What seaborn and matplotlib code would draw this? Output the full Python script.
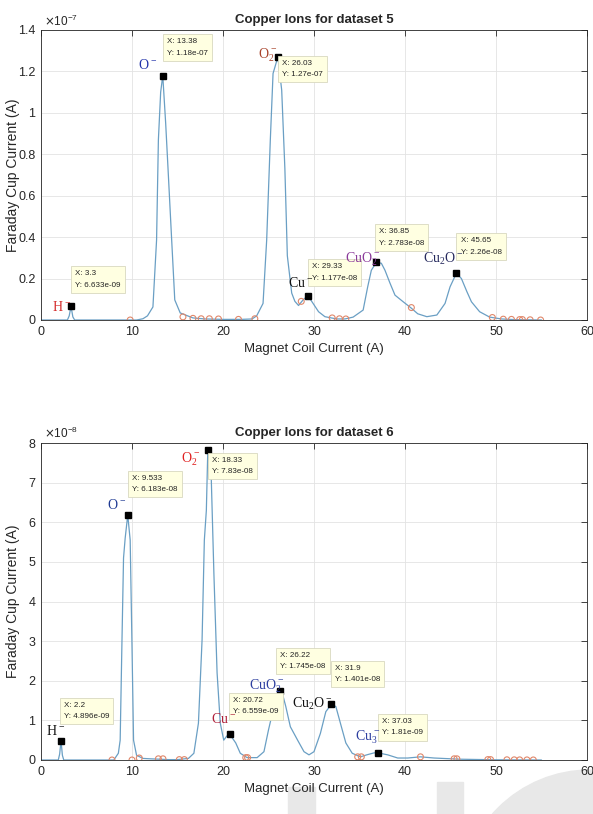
import numpy as np
import pandas as pd
import seaborn as sns
import matplotlib.pyplot as plt
from matplotlib.patches import Rectangle, Ellipse
from matplotlib.ticker import FuncFormatter

# ---- dataset 5 spectrum (y in units of 1e-7 A) ----
x5 = [0, 2.9, 3.1, 3.3, 3.5, 3.7, 10.5, 11.2, 11.7, 12.3, 12.7, 12.9, 13.15, 13.38,
      13.7, 13.96, 14.36, 14.7, 15.3, 16.7, 18, 20, 22, 23.2, 23.7, 24.4, 24.8, 25.2,
      25.5, 26.03, 26.45, 26.8, 27.07, 27.55, 27.9, 28.3, 28.8, 29.33, 29.9, 30.5,
      31.2, 32.5, 33.4, 34.3, 35.4, 35.9, 36.3, 36.85, 37.4, 37.8, 38.35, 38.9, 39.8,
      40.7, 41.4, 42.4, 43.5, 44.4, 44.95, 45.65, 46.2, 46.8, 47.3, 48.2, 49.3, 50.6,
      52, 55]
y5 = [0, 0, 0.02, 0.066, 0.015, 0, 0, 0.006, 0.02, 0.063, 0.386, 0.87, 1.1, 1.18,
      0.95, 0.73, 0.386, 0.097, 0.034, 0.01, 0.005, 0.003, 0.003, 0.005, 0.02, 0.08,
      0.386, 0.87, 1.19, 1.27, 1.11, 0.73, 0.31, 0.13, 0.09, 0.07, 0.097, 0.1177, 0.08,
      0.04, 0.016, 0.005, 0.005, 0.014, 0.048, 0.16, 0.24, 0.2783, 0.274, 0.24, 0.178,
      0.12, 0.088, 0.057, 0.03, 0.016, 0.024, 0.08, 0.16, 0.226, 0.2, 0.137, 0.088,
      0.04, 0.014, 0.005, 0.002, 0]
circ5_x = [9.8, 15.6, 16.7, 17.6, 18.5, 19.5, 21.7, 23.5, 28.6, 32.0, 32.8, 33.5,
           40.7, 49.6, 50.8, 51.7, 52.6, 52.9, 53.75, 54.9]
circ5_y = [0.0, 0.015, 0.008, 0.006, 0.006, 0.005, 0.003, 0.006, 0.09, 0.01, 0.006,
           0.005, 0.06, 0.012, 0.004, 0.003, 0.002, 0.002, 0.001, 0.0]
tip5_x = [3.3, 13.38, 26.03, 29.33, 36.85, 45.65]
tip5_y = [6.633e-09, 1.18e-07, 1.27e-07, 1.177e-08, 2.783e-08, 2.26e-08]
ion5 = ["H^-", "O^-", "O_2^-", "Cu^-", "CuO_2^-", "Cu_2O^-"]
ion5_colors = ["#d42a2a", "#2233aa", "#a8432b", "#111111", "#8a3a9a", "#262a5e"]

# ---- dataset 6 spectrum (y in units of 1e-8 A) ----
x6 = [0, 1.9, 2.05, 2.2, 2.35, 2.5, 8.0, 8.5, 8.7, 8.9, 9.07, 9.25, 9.533, 9.8,
      9.99, 10.17, 10.5, 11.2, 12, 13, 14, 15, 16.2, 16.8, 17.3, 17.7, 17.95, 18.17,
      18.33, 18.7, 19.0, 19.35, 19.7, 20.08, 20.4, 20.72, 21.4, 21.9, 22.65, 23.75,
      24.5, 25.0, 25.6, 26.22, 26.5, 26.9, 27.4, 28.2, 28.9, 29.45, 30.0, 30.7, 31.3,
      31.9, 32.4, 32.9, 33.5, 34.2, 35.1, 35.8, 36.6, 37.03, 38.1, 39.2, 40.3, 41.7,
      43.2, 46, 50, 55]
y6 = [0, 0, 0.15, 0.49, 0.12, 0, 0, 0.17, 0.5, 3.03, 5.1, 5.6, 6.183, 5.55, 3.0, 0.5,
      0.12, 0.04, 0.03, 0.02, 0.01, 0.01, 0.04, 0.17, 0.93, 3.03, 5.55, 6.3, 7.83, 7.2,
      4.7, 2.2, 0.93, 0.5, 0.6, 0.6559, 0.43, 0.17, 0.06, 0.06, 0.21, 0.76, 1.35,
      1.745, 1.7, 1.35, 0.84, 0.5, 0.21, 0.13, 0.21, 0.67, 1.22, 1.401, 1.35, 0.93,
      0.43, 0.17, 0.08, 0.13, 0.18, 0.181, 0.13, 0.05, 0.05, 0.08, 0.05, 0.02, 0.005, 0]
circ6_x = [7.8, 10.0, 10.8, 12.9, 13.4, 15.2, 15.75, 22.5, 22.7, 34.8, 35.2, 41.7,
           45.4, 45.7, 49.1, 49.4, 51.2, 52.0, 52.6, 53.4, 54.1]
circ6_y = [0.0, 0.0, 0.05, 0.03, 0.03, 0.01, 0.01, 0.06, 0.06, 0.08, 0.08, 0.08,
           0.03, 0.03, 0.01, 0.01, 0.005, 0.004, 0.003, 0.002, 0.001]
tip6_x = [2.2, 9.533, 18.33, 20.72, 26.22, 31.9, 37.03]
tip6_y = [4.896e-09, 6.183e-08, 7.83e-08, 6.559e-09, 1.745e-08, 1.401e-08, 1.81e-09]
ion6 = ["H^-", "O^-", "O_2^-", "Cu^-", "CuO_2^-", "Cu_2O^-", "Cu_3^-"]
ion6_colors = ["#111111", "#1f3a93", "#e02020", "#b0203a", "#2d3fa0", "#111111", "#2d3fa0"]

# ---- layout: ion label centres and data-tip box top-left corners (data coords) ----
ion5_pos = [(2.3, 0.064), (11.7, 1.23), (24.9, 1.28), (28.5, 0.18), (35.3, 0.295), (44.2, 0.295)]
box5_pos = [(3.75, 0.24), (13.9, 1.36), (26.5, 1.256), (29.8, 0.275), (37.1, 0.444), (46.1, 0.40)]
ion6_pos = [(1.6, 0.74), (8.26, 6.44), (16.4, 7.58), (20.1, 1.03), (24.8, 1.87), (29.8, 1.41), (35.9, 0.58)]
box6_pos = [(2.5, 1.47), (10.0, 7.2), (18.8, 7.65), (21.1, 1.59), (26.3, 2.73), (32.3, 2.4), (37.5, 1.06)]

sns.set_style("white")
sans = ["Liberation Sans", "DejaVu Sans"]
plt.rcParams["font.family"] = sans

line_color = "#6a9fc4"
circ_color = "#e0876a"

fig = plt.figure(figsize=(5.93, 8.14), dpi=100)
ax5 = fig.add_axes([41 / 593, 1 - 320 / 814, 546 / 593, 290 / 814])
ax6 = fig.add_axes([41 / 593, 1 - 760 / 814, 546 / 593, 317 / 814])


def draw(ax, xs, ys, cx, cy, tx, ty, scale, ions, colors, ion_pos, box_pos,
         ymax, ystep, title, exp):
    df = pd.DataFrame({"x": xs, "y": ys})
    sns.lineplot(data=df, x="x", y="y", ax=ax, color=line_color, lw=0.9, sort=False)
    ax.scatter(cx, cy, s=18, facecolors="none", edgecolors=circ_color, lw=0.8, zorder=3)
    ty_s = np.array(ty) / scale
    ax.plot(tx, ty_s, ls="", marker="s", ms=4.5, color="black", zorder=5)
    for i in range(len(tx)):
        ax.text(box_pos[i][0], box_pos[i][1],
                "X: %.4g\nY: %.4g" % (tx[i], ty[i]),
                fontsize=5.8, ha="left", va="top", linespacing=1.9,
                zorder=6, color="#222222",
                bbox=dict(boxstyle="square,pad=0.5", fc="#ffffe1", ec="#d8d8c0", lw=0.6))
        ax.text(ion_pos[i][0], ion_pos[i][1], r"$\mathregular{%s}$" % ions[i],
                fontsize=10, family="Liberation Serif", color=colors[i],
                ha="center", va="center", zorder=6)
    ax.set_xlim(0, 60)
    ax.set_ylim(0, ymax)
    ax.set_xticks(range(0, 61, 10))
    ax.set_yticks(np.arange(0, ymax + 1e-9, ystep))
    ax.yaxis.set_major_formatter(FuncFormatter(lambda v, p: "%g" % round(v, 3)))
    ax.grid(True, color="#e3e3e3", lw=0.6)
    ax.tick_params(direction="in", length=4, width=0.6, top=True, right=True,
                   labelsize=9, colors="#262626", pad=4)
    for s in ax.spines.values():
        s.set_color("#262626")
        s.set_linewidth(0.6)
    ax.set_xlabel("Magnet Coil Current (A)", fontsize=9.5, labelpad=4)
    ax.set_ylabel("Faraday Cup Current (A)", fontsize=10)
    ax.yaxis.set_label_coords(-0.039, 0.5)
    ax.set_title(title, fontsize=9.5, fontweight="bold", pad=5)
    ax.text(0.005, 1.005, r"$\times\mathregular{10^{%d}}$" % exp, transform=ax.transAxes,
            fontsize=8.5, ha="left", va="bottom", color="#262626")


draw(ax5, x5, y5, circ5_x, circ5_y, tip5_x, tip5_y, 1e-7, ion5, ion5_colors,
     ion5_pos, box5_pos, 1.4, 0.2, "Copper Ions for dataset 5", -7)
draw(ax6, x6, y6, circ6_x, circ6_y, tip6_x, tip6_y, 1e-8, ion6, ion6_colors,
     ion6_pos, box6_pos, 8, 1, "Copper Ions for dataset 6", -8)

# faint watermark shapes at the bottom
wm = "#e8e8e8"
fig.patches.append(Rectangle((288 / 593, 0), 27 / 593, 27 / 814, transform=fig.transFigure,
                             color=wm, zorder=-1))
fig.patches.append(Rectangle((437 / 593, 0), 26 / 593, 32 / 814, transform=fig.transFigure,
                             color=wm, zorder=-1))
fig.patches.append(Ellipse((590 / 593, -86 / 814), 2 * 130 / 593, 2 * 130 / 814,
                           transform=fig.transFigure, color=wm, zorder=-1))

fig.savefig("out.png", dpi=100)
